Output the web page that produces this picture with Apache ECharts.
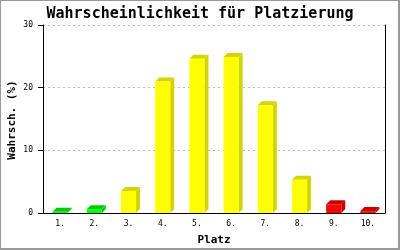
<!DOCTYPE html>
<html><head><meta charset="utf-8">
<script src="https://cdn.jsdelivr.net/npm/echarts@6/dist/echarts.min.js"></script>
<style>html,body{margin:0;padding:0;background:#fff}#c{width:400px;height:250px}</style>
</head><body><div id="c"></div>
<script>
const categories = ['1.','2.','3.','4.','5.','6.','7.','8.','9.','10.'];
const greenValues  = [0.2, 0.6, null, null, null, null, null, null, null, null];
const yellowValues = [null, null, 3.5, 21.0, 24.6, 24.9, 17.2, 5.3, null, null];
const redValues    = [null, null, null, null, null, null, null, null, 1.4, 0.3];
const yTicks = [0, 10, 20, 30];
const yAxisTitle = 'Wahrsch. (%)';

const FONT = '"DejaVu Sans Mono", monospace';
function bar3d(front, dark){
  return function(params, api){
    const v = api.value(1);
    if (v == null || isNaN(v)) return;
    const idx = api.value(0);
    const top = api.coord([idx, v]);
    const base = api.coord([idx, 0]);
    const bw = api.size([1, 0])[0] * 0.44;
    const d = 4;
    const x0 = top[0] - bw/2, x1 = top[0] + bw/2;
    const yt = top[1], yb = base[1];
    return {type:'group', children:[
      {type:'polygon', shape:{points:[[x1,yt],[x1+d,yt-d],[x1+d,yb-d],[x1,yb]]}, style:{fill:dark}},
      {type:'polygon', shape:{points:[[x0,yt],[x0+d,yt-d],[x1+d,yt-d],[x1,yt]]}, style:{fill:dark}},
      {type:'rect', shape:{x:x0, y:yt, width:bw, height:yb-yt}, style:{fill:front}}
    ]};
  };
}
function mk(vals){ return vals.map((v,i)=>[i, v]); }

const chart = echarts.init(document.getElementById('c'), null, {renderer:'canvas'});
chart.setOption({
  animation:false,
  title:{text:'Wahrscheinlichkeit für Platzierung', left:'center', top:2,
    textStyle:{fontFamily:FONT, fontWeight:'bold', fontSize:15, color:'#000'}},
  grid:{left:43, right:15, top:25, bottom:37, containLabel:false, outerBoundsMode:'none'},
  xAxis:{type:'category', data:categories, name:'Platz', nameLocation:'middle', nameGap:22,
    nameTextStyle:{fontFamily:FONT, fontWeight:'bold', fontSize:11, color:'#000'},
    axisLine:{lineStyle:{color:'#000', width:1}}, axisTick:{show:false},
    axisLabel:{fontFamily:FONT, fontSize:8, color:'#000', margin:7}},
  yAxis:[{type:'value', min:0, max:30, interval:10,
    axisLine:{show:true, lineStyle:{color:'#000'}}, axisTick:{show:true, length:5, lineStyle:{color:'#000'}},
    axisLabel:{fontFamily:FONT, fontSize:8, color:'#000', margin:10,
      formatter:v=> yTicks.includes(v) ? String(v) : ''},
    splitLine:{show:true, lineStyle:{color:'#bbb', type:[2,3]}}},
   {type:'value', min:0, max:30, interval:10, position:'right',
    axisLine:{show:true, lineStyle:{color:'#000'}}, axisTick:{show:false}, axisLabel:{show:false}, splitLine:{show:false}}],
  series:[
    {type:'custom', renderItem:bar3d('#00ff00','#00cc00'), data:mk(greenValues), encode:{x:0,y:1}},
    {type:'custom', renderItem:bar3d('#ffff00','#d4d400'), data:mk(yellowValues), encode:{x:0,y:1}},
    {type:'custom', renderItem:bar3d('#ff0000','#cc0000'), data:mk(redValues), encode:{x:0,y:1}}
  ],
  graphic:[
    {type:'text', x:12, y:120, rotation:Math.PI/2,
      style:{text:yAxisTitle, font:'bold 11px ' + FONT, fill:'#000', align:'center', verticalAlign:'middle'}},
    {type:'rect', shape:{x:0, y:0, width:399, height:249}, style:{fill:'none', stroke:'#999', lineWidth:2}, z:100}
  ]
});
</script></body></html>
